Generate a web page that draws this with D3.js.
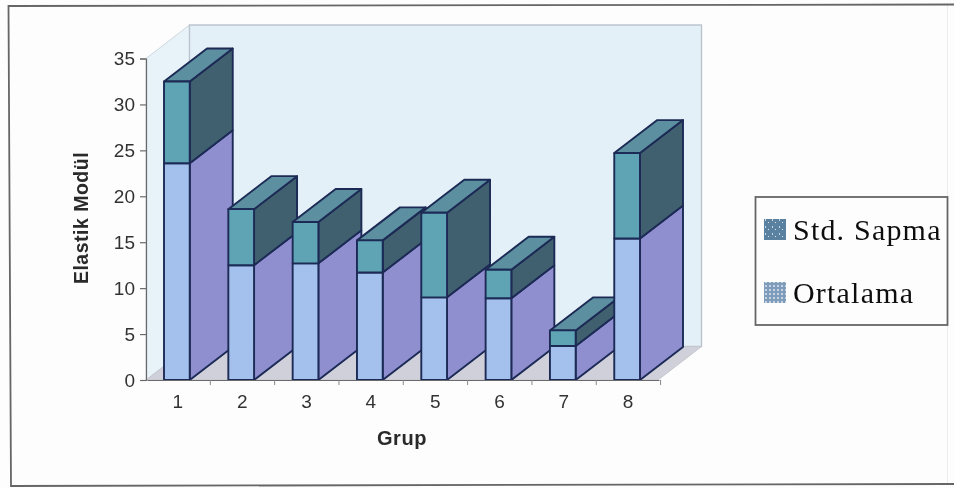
<!DOCTYPE html>
<html><head><meta charset="utf-8">
<script src="https://cdn.jsdelivr.net/npm/d3@7"></script>
<style>html,body{margin:0;padding:0;background:#fdfdfd}svg{display:block}</style>
</head><body><svg id="c" width="954" height="488"></svg>
<script>
const groups = ["1","2","3","4","5","6","7","8"];
const ortalama = [23.6, 12.5, 12.7, 11.7, 9.0, 8.9, 3.7, 15.4];
const stdSapma = [8.9, 6.1, 4.5, 3.5, 9.2, 3.1, 1.7, 9.3];
const yTicks = [0,5,10,15,20,25,30,35];
const legendLabels = ["Std. Sapma","Ortalama"];

const svg = d3.select("#c");
const defs = svg.append("defs");
defs.append("filter").attr("id","scan").attr("x","-2%").attr("y","-2%").attr("width","104%").attr("height","104%")
  .append("feGaussianBlur").attr("stdDeviation",0.55);
const p1 = defs.append("pattern").attr("id","sw1").attr("patternUnits","userSpaceOnUse").attr("width",7).attr("height",7);
p1.append("rect").attr("width",7).attr("height",7).attr("fill","#5a82a0");
p1.append("rect").attr("x",2).attr("y",2).attr("width",1).attr("height",2).attr("fill","#c8d6e2");
p1.append("rect").attr("x",5).attr("y",5).attr("width",1).attr("height",1).attr("fill","#dfe8ef");
const p2 = defs.append("pattern").attr("id","sw2").attr("patternUnits","userSpaceOnUse").attr("width",4).attr("height",4);
p2.append("rect").attr("width",4).attr("height",4).attr("fill","#7f9dbb");
p2.append("rect").attr("x",1).attr("y",1).attr("width",2).attr("height",2).attr("fill","#c4d4e4");

const root = svg.append("g").attr("filter","url(#scan)");
const y = d3.scaleLinear().domain([0,35]).range([380,58.5]);
const x = d3.scaleBand().domain(groups).range([146,658]).paddingInner(0.6).paddingOuter(0.28);
const dx = 43, dyDepth = -33;
const wallDx = 43.5, wallDy = -33.5;
const ink = "#1b2a55";
const sans = "'Liberation Sans',Arial,sans-serif";

// page frame
root.append("path").attr("d","M947.5,5 L947.5,484").attr("fill","none").attr("stroke","#ececec");
root.append("path").attr("d","M954,4.5 L8.5,6 L11,486 L954,484").attr("fill","none").attr("stroke","#666").attr("stroke-width",1.8);

// walls
const x0 = 146, x1 = 658, y0 = y(0), yT = y(35);
const poly = pts => pts.map(p=>p.join(",")).join(" ");
root.append("polygon").attr("points",poly([[x0,y0],[x0,yT],[x0+wallDx,yT+wallDy],[x0+wallDx,y0+wallDy]]))
  .attr("fill","#e8f2f9").attr("stroke","#ced6de");
root.append("polygon").attr("points",poly([[x0+wallDx,yT+wallDy],[x1+wallDx,yT+wallDy],[x1+wallDx,y0+wallDy],[x0+wallDx,y0+wallDy]]))
  .attr("fill","#e4f0f8").attr("stroke","#bcc4cd").attr("stroke-width",1.4);
root.append("polygon").attr("points",poly([[x0,y0],[x1,y0],[x1+wallDx,y0+wallDy],[x0+wallDx,y0+wallDy]]))
  .attr("fill","#cfd0da").attr("stroke","#c4c6cf");

// bars
const stacked = groups.map((g,i)=>({g,mean:ortalama[i],total:ortalama[i]+stdSapma[i]}));
const barG = root.append("g").attr("stroke",ink).attr("stroke-width",1.9).attr("stroke-linejoin","round");
stacked.forEach(d=>{
  const l = x(d.g), r = l + x.bandwidth();
  const yb = y(0), ym = y(d.mean), yt = y(d.total);
  const sidePts = (a,b)=>[[r,a],[r,b],[r+dx,b+dyDepth],[r+dx,a+dyDepth]];
  barG.append("polygon").attr("points",poly(sidePts(yb,ym))).attr("fill","#8f8fd0");
  barG.append("polygon").attr("points",poly(sidePts(ym,yt))).attr("fill","#40606f");
  barG.append("polygon").attr("points",poly([[l,yt],[r,yt],[r+dx,yt+dyDepth],[l+dx,yt+dyDepth]])).attr("fill","#5c8f9f");
  barG.append("rect").attr("x",l).attr("y",ym).attr("width",r-l).attr("height",yb-ym).attr("fill","#a4c0ec");
  barG.append("rect").attr("x",l).attr("y",yt).attr("width",r-l).attr("height",ym-yt).attr("fill","#5fa4b4");
});

// axes
const yAxis = root.append("g").attr("transform",`translate(${x0},0)`).call(
  d3.axisLeft(y).tickValues(yTicks).tickSize(6).tickPadding(5));
const xAxis = root.append("g").attr("transform",`translate(1,${y0})`).call(
  d3.axisBottom(x).tickSize(0).tickPadding(15));
[yAxis,xAxis].forEach(a=>{
  a.selectAll("path,line").attr("stroke","#6a6a6a").attr("stroke-width",1.2);
  a.selectAll("text").attr("fill","#333").attr("font-family",sans).attr("font-size",19);
});
// x tick marks sit between the categories
root.append("g").selectAll("line").data(d3.range(1,9)).join("line")
  .attr("x1",d=>x0+d*x.step()).attr("x2",d=>x0+d*x.step())
  .attr("y1",y0).attr("y2",y0+5).attr("stroke","#888");

// axis titles
root.append("text").attr("x",402).attr("y",445).attr("text-anchor","middle")
  .attr("font-family",sans).attr("font-size",20).attr("font-weight","bold").attr("letter-spacing",0.6).attr("fill","#2a2a2a").text("Grup");
root.append("text").attr("transform","translate(88,218) rotate(-90)").attr("text-anchor","middle")
  .attr("font-family",sans).attr("font-size",19.5).attr("font-weight","bold").attr("letter-spacing",0.5).attr("fill","#2a2a2a").text("Elastik Modül");

// legend
root.append("rect").attr("x",755.5).attr("y",197).attr("width",192).attr("height",128)
  .attr("fill","#fdfdfd").attr("stroke","#666").attr("stroke-width",1.8);
const swatch = ["url(#sw1)","url(#sw2)"];
const legendY = d3.scalePoint().domain(legendLabels).range([230,293]);
legendLabels.forEach((t,i)=>{
  root.append("rect").attr("x",764).attr("y",legendY(t)-11).attr("width",22).attr("height",21).attr("fill",swatch[i]);
  root.append("text").attr("x",793).attr("y",legendY(t)+10).attr("font-family","'Liberation Serif',serif")
    .attr("font-size",30).attr("letter-spacing",1.2).attr("fill","#111").text(t);
});
</script></body></html>
